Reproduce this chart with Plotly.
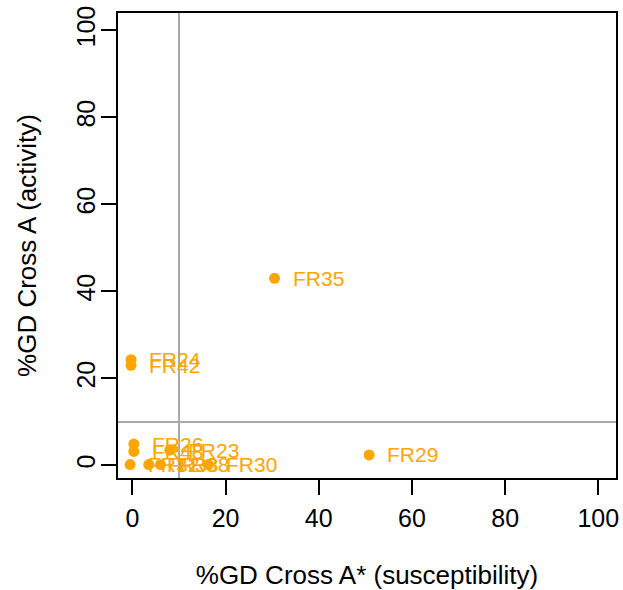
import plotly.graph_objects as go

# data
labels = ["FR35", "FR29", "FR24", "FR42", "FR26", "FR48", "FR23", "FR32", "FR33", "FR38", "FR30"]
x_susc = [30.5, 50.8, -0.3, -0.3, 0.3, 0.3, 8.0, -0.5, 3.5, 6.0, 16.3]
y_act = [43.0, 2.4, 24.3, 23.0, 4.9, 3.2, 3.5, 0.2, 0.2, 0.2, 0.2]
threshold = 10
tick_vals = [0, 20, 40, 60, 80, 100]

orange = "#FFA500"
font_family = "Liberation Sans, Arial, Helvetica, sans-serif"

fig = go.Figure()
fig.add_trace(go.Scatter(
    x=x_susc, y=y_act, mode="markers",
    marker=dict(color=orange, size=11, line=dict(width=0)),
    hoverinfo="skip", showlegend=False,
))

for lab, xv, yv in zip(labels, x_susc, y_act):
    fig.add_annotation(x=xv, y=yv, text=lab, showarrow=False,
                       xanchor="left", yanchor="middle", xshift=16,
                       font=dict(color=orange, size=21, family=font_family))

fig.add_shape(type="line", xref="x", yref="paper", x0=threshold, x1=threshold, y0=0, y1=1,
              line=dict(color="#A8A8A8", width=2), layer="below")
fig.add_shape(type="line", xref="paper", yref="y", x0=0, x1=1, y0=threshold, y1=threshold,
              line=dict(color="#A8A8A8", width=2), layer="below")

axis_common = dict(
    tickvals=tick_vals, ticks="outside", ticklen=15, tickwidth=2, automargin=False,
    tickcolor="black", showline=True, linecolor="black", linewidth=2, mirror=True,
    showgrid=False, zeroline=False,
    tickfont=dict(size=25, color="black", family=font_family),
)

fig.update_layout(
    width=623, height=590,
    margin=dict(l=118, r=7, t=13, b=112),
    paper_bgcolor="white", plot_bgcolor="white",
    xaxis=dict(**axis_common, range=[-3.1, 103.8], ticklabelstandoff=2,
               title=dict(text="%GD Cross A* (susceptibility)", standoff=40,
                          font=dict(size=26, color="black", family=font_family))),
    yaxis=dict(**axis_common, range=[-2.9, 104.0], tickangle=-90, ticklabelstandoff=-4,
               title=dict(text="%GD Cross A (activity)", standoff=28,
                          font=dict(size=26, color="black", family=font_family))),
)

fig.write_html("out.html")
